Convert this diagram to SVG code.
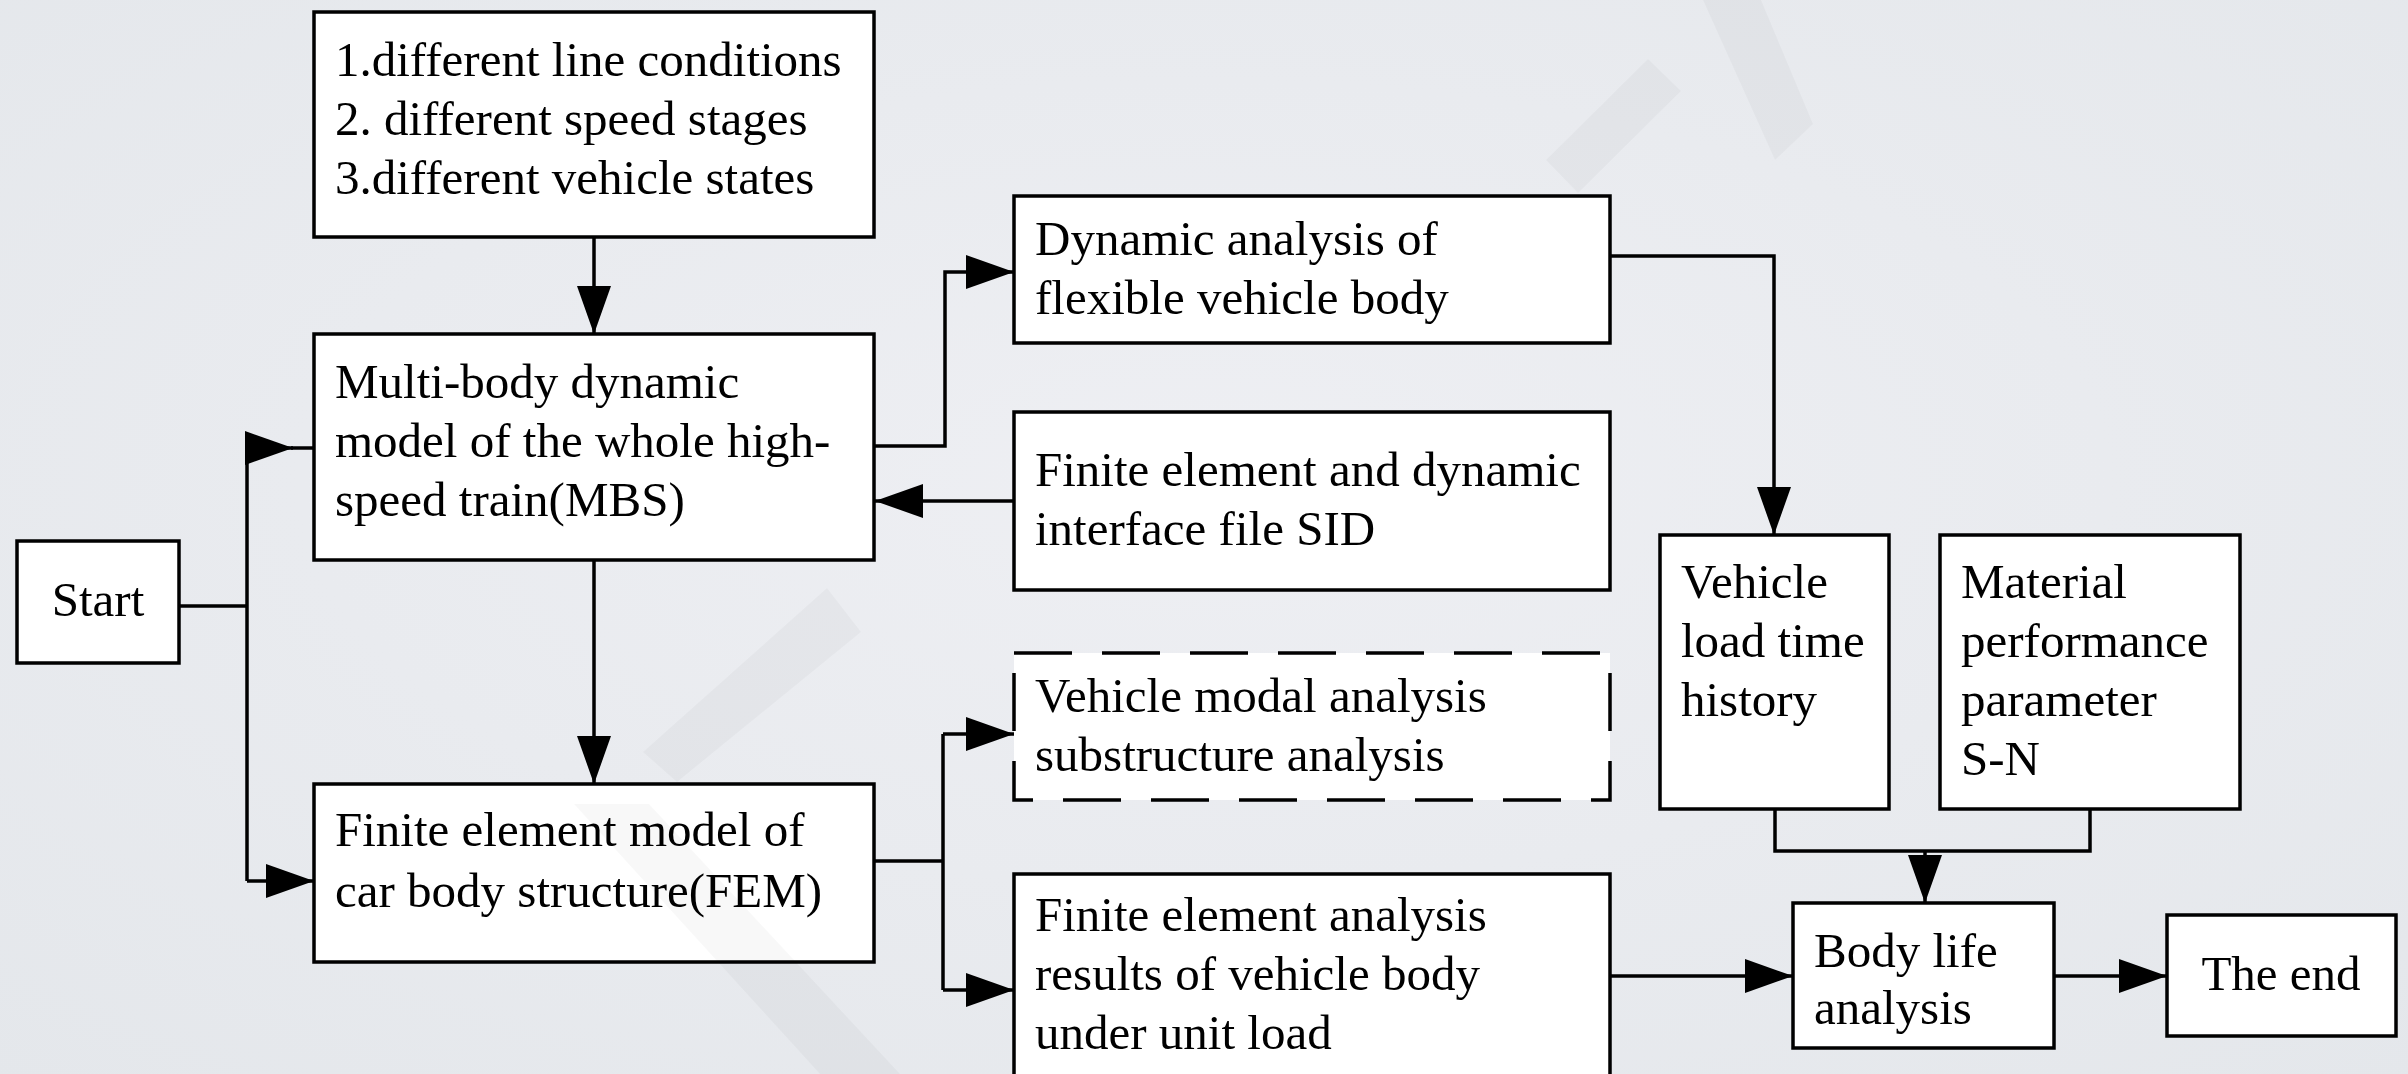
<svg xmlns="http://www.w3.org/2000/svg" width="2408" height="1074" viewBox="0 0 2408 1074">
  <defs>
    <style>
      .box { fill: #ffffff; stroke: #000000; stroke-width: 3.5; }
      .dash { fill: #ffffff; stroke: #000000; stroke-width: 3.5; stroke-dasharray: 58 30; }
      .t { font-family: "Liberation Serif", "Times New Roman", serif; font-size: 49px; fill: #000000; }
      .ln { fill: none; stroke: #000000; stroke-width: 3.5; }
      .ar { fill: none; stroke: #000000; stroke-width: 3.5; marker-end: url(#arr); }
      .wm { fill: #000000; fill-opacity: 0.028; }
    </style>
    <marker id="arr" markerUnits="userSpaceOnUse" markerWidth="48" markerHeight="34" refX="48" refY="17" orient="auto">
      <path d="M0,0 L48,17 L0,34 Z" fill="#000000"/>
    </marker>
    <radialGradient id="bg" cx="0.5" cy="0.45" r="0.75">
      <stop offset="0" stop-color="#eeeff3"/>
      <stop offset="1" stop-color="#e4e7eb"/>
    </radialGradient>
  </defs>

  <rect x="0" y="0" width="2408" height="1074" fill="url(#bg)"/>

  <g id="connectors">
    <path class="ar" d="M594,237 V334"/>
    <path class="ar" d="M594,560 V784"/>
    <path class="ln" d="M179,606 H247"/>
    <path class="ln" d="M247,448 V881"/>
    <path class="ar" d="M247,448 H293"/>
    <path class="ln" d="M291,448 H314"/>
    <path class="ar" d="M247,881 H314"/>
    <path class="ar" d="M875,446 H945 V272 H1014"/>
    <path class="ar" d="M1014,501 H875"/>
    <path class="ln" d="M874,861 H943"/>
    <path class="ln" d="M943,734 V990"/>
    <path class="ar" d="M943,734 H1014"/>
    <path class="ar" d="M943,990 H1014"/>
    <path class="ar" d="M1610,256 H1774 V535"/>
    <path class="ln" d="M1775,809 V851 H2090 V809"/>
    <path class="ar" d="M1925,851 V903"/>
    <path class="ar" d="M1610,976 H1793"/>
    <path class="ar" d="M2054,976 H2167"/>
  </g>

  <g id="node-conditions">
    <rect class="box" x="314" y="12" width="560" height="225"/>
    <text class="t" x="335" y="76">1.different line conditions</text>
    <text class="t" x="335" y="135">2. different speed stages</text>
    <text class="t" x="335" y="194">3.different vehicle states</text>
  </g>

  <g id="node-mbs">
    <rect class="box" x="314" y="334" width="560" height="226"/>
    <text class="t" x="335" y="398">Multi-body dynamic</text>
    <text class="t" x="335" y="457">model of the whole high-</text>
    <text class="t" x="335" y="516">speed train(MBS)</text>
  </g>

  <g id="node-fem">
    <rect class="box" x="314" y="784" width="560" height="178"/>
    <text class="t" x="335" y="846">Finite element model of</text>
    <text class="t" x="335" y="907">car body structure(FEM)</text>
  </g>

  <g id="node-start">
    <rect class="box" x="17" y="541" width="162" height="122"/>
    <text class="t" x="98" y="616" text-anchor="middle">Start</text>
  </g>

  <g id="node-dynamic">
    <rect class="box" x="1014" y="196" width="596" height="147"/>
    <text class="t" x="1035" y="255">Dynamic analysis of</text>
    <text class="t" x="1035" y="314">flexible vehicle body</text>
  </g>

  <g id="node-sid">
    <rect class="box" x="1014" y="412" width="596" height="178"/>
    <text class="t" x="1035" y="486">Finite element and dynamic</text>
    <text class="t" x="1035" y="545">interface file SID</text>
  </g>

  <g id="node-modal">
    <rect class="dash" x="1014" y="653" width="596" height="147"/>
    <text class="t" x="1035" y="712">Vehicle modal analysis</text>
    <text class="t" x="1035" y="771">substructure analysis</text>
  </g>

  <g id="node-fea">
    <rect class="box" x="1014" y="874" width="596" height="220"/>
    <text class="t" x="1035" y="931">Finite element analysis</text>
    <text class="t" x="1035" y="990">results of vehicle body</text>
    <text class="t" x="1035" y="1049">under unit load</text>
  </g>

  <g id="node-loadhistory">
    <rect class="box" x="1660" y="535" width="229" height="274"/>
    <text class="t" x="1681" y="598">Vehicle</text>
    <text class="t" x="1681" y="657">load time</text>
    <text class="t" x="1681" y="716">history</text>
  </g>

  <g id="node-material">
    <rect class="box" x="1940" y="535" width="300" height="274"/>
    <text class="t" x="1961" y="598">Material</text>
    <text class="t" x="1961" y="657">performance</text>
    <text class="t" x="1961" y="716">parameter</text>
    <text class="t" x="1961" y="775">S-N</text>
  </g>

  <g id="node-bodylife">
    <rect class="box" x="1793" y="903" width="261" height="145"/>
    <text class="t" x="1814" y="967">Body life</text>
    <text class="t" x="1814" y="1024">analysis</text>
  </g>

  <g id="node-end">
    <rect class="box" x="2167" y="915" width="229" height="121"/>
    <text class="t" x="2281" y="990" text-anchor="middle">The end</text>
  </g>

  <g id="watermark">
    <polygon class="wm" points="1546,160 1648,59 1681,91 1578,193"/>
    <polygon class="wm" points="1703,0 1761,0 1813,124 1775,160"/>
    <polygon class="wm" points="574,804 649,804 900,1074 820,1074"/>
    <polygon class="wm" points="643,752 827,588 861,632 677,782"/>
  </g>
</svg>
